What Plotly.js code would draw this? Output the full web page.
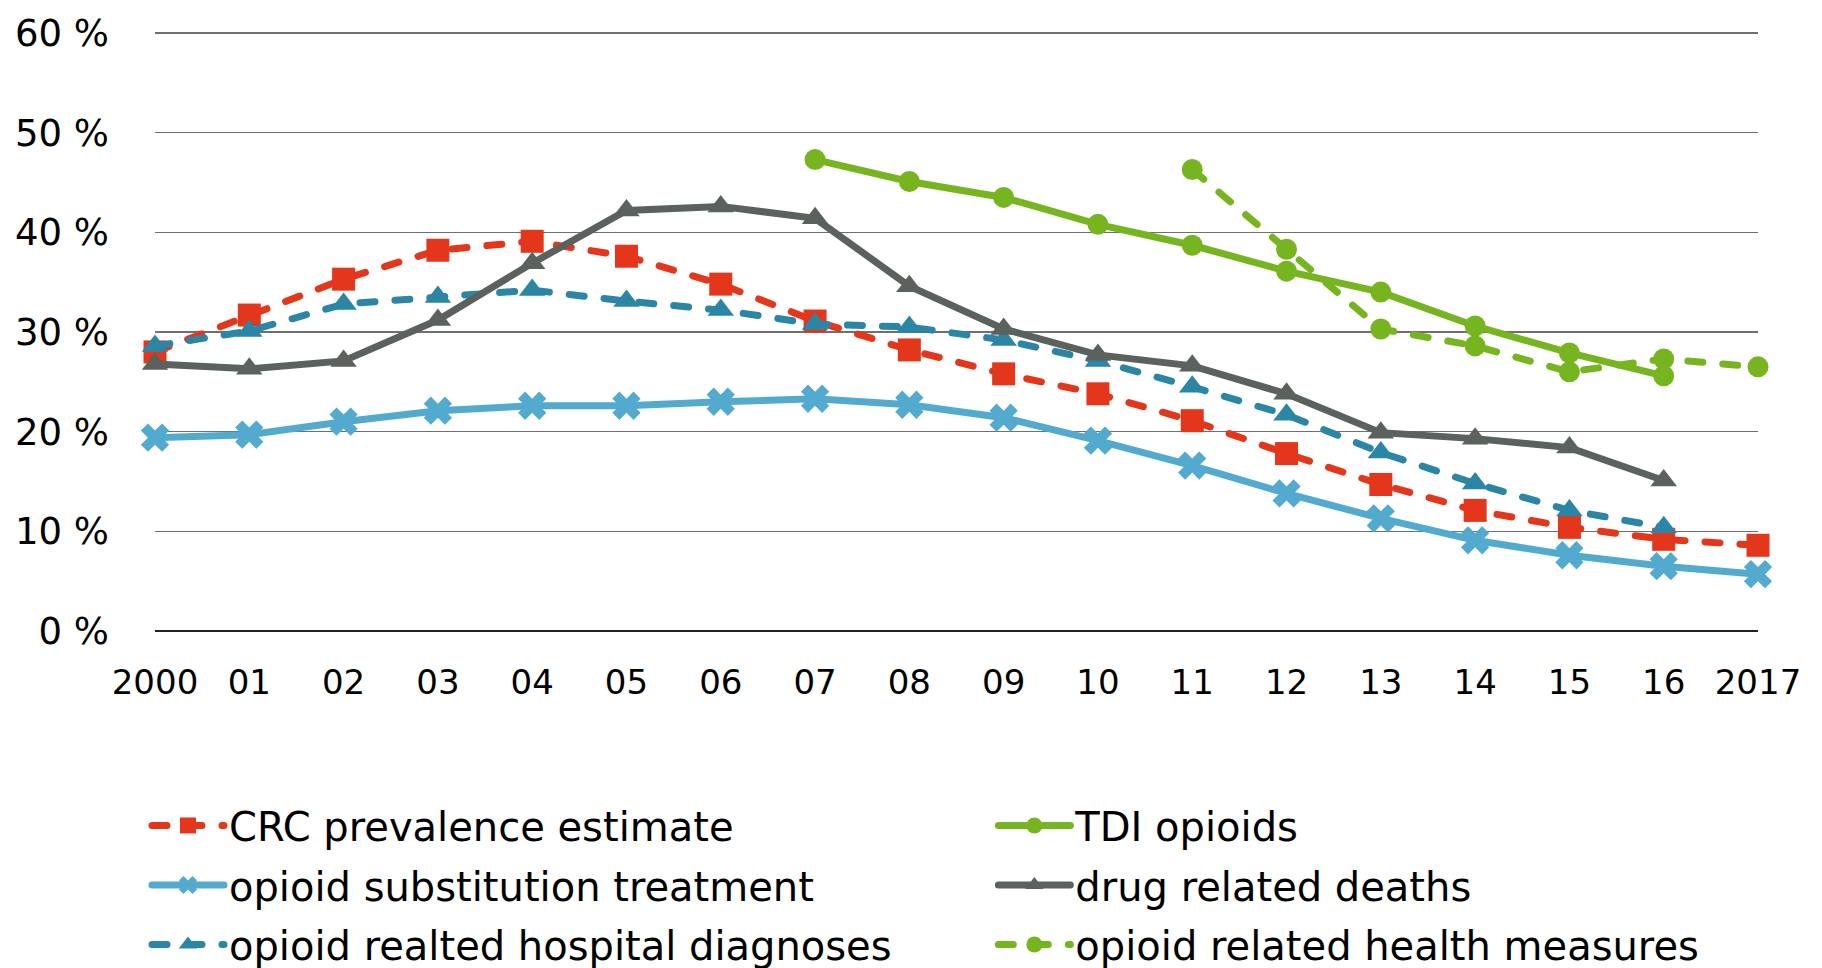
<!DOCTYPE html>
<html>
<head>
<meta charset="utf-8">
<script src="https://cdn.plot.ly/plotly-3.0.1.min.js"></script>
<style>
html,body{margin:0;padding:0;background:#fff;}
#chart{width:1822px;height:968px;}
#chart .js-line{stroke-linecap:round;}
</style>
</head>
<body>
<div id="chart"></div>
<script>
const years = [2000,2001,2002,2003,2004,2005,2006,2007,2008,2009,2010,2011,2012,2013,2014,2015,2016,2017];
const xTickLabels = ["2000","01","02","03","04","05","06","07","08","09","10","11","12","13","14","15","16","2017"];
const yTickVals = [0,10,20,30,40,50,60];
const yTickLabels = ["0 %","10 %","20 %","30 %","40 %","50 %","60 %"];
const crcPrevalence = [28.0,31.7,35.3,38.2,39.1,37.6,34.8,31.1,28.2,25.8,23.8,21.1,17.8,14.7,12.1,10.4,9.2,8.6];
const substitution = [19.4,19.7,21.0,22.1,22.6,22.6,23.0,23.3,22.7,21.4,19.1,16.6,13.8,11.3,9.1,7.6,6.5,5.7];
const hospitalDiag = [28.6,30.1,32.8,33.5,34.2,33.1,32.2,30.8,30.5,29.2,27.1,24.5,21.7,17.9,14.8,12.1,10.4,null];
const drugDeaths = [26.8,26.3,27.1,31.2,36.9,42.2,42.6,41.4,34.6,30.3,27.7,26.6,23.8,19.9,19.3,18.4,15.1,null];
const tdiYears = [2007,2008,2009,2010,2011,2012,2013,2014,2015,2016];
const tdiOpioids = [47.3,45.1,43.5,40.8,38.7,36.1,34.0,30.6,27.9,25.6];
const healthYears = [2011,2012,2013,2014,2015,2016,2017];
const healthMeasures = [46.3,38.3,30.3,28.6,26.0,27.3,26.5];

const FONT = '"DejaVu Sans", "Noto Sans", sans-serif';
const RED = '#E4361B', LBLUE = '#52AACE', TEAL = '#2B85A5', GREY = '#5B625D', GREEN = '#76B51F';
const DASH = '15px,20px';

const traces = [
  {name:'CRC prevalence estimate', x:years, y:crcPrevalence, legend:'legend', legendgroup:'a',
   line:{color:RED,width:7,dash:DASH}, marker:{symbol:'square',size:23,color:RED}},
  {name:'opioid substitution treatment', x:years, y:substitution, legend:'legend', legendgroup:'b',
   line:{color:LBLUE,width:7}, marker:{symbol:'x',size:25,color:LBLUE}},
  {name:'opioid realted hospital diagnoses', x:years, y:hospitalDiag, legend:'legend', legendgroup:'c',
   line:{color:TEAL,width:7,dash:DASH}, marker:{symbol:'triangle-up',size:23,color:TEAL}},
  {name:'TDI opioids', x:tdiYears, y:tdiOpioids, legend:'legend2', legendgroup:'d',
   line:{color:GREEN,width:7}, marker:{symbol:'circle',size:21,color:GREEN}},
  {name:'drug related deaths', x:years, y:drugDeaths, legend:'legend2', legendgroup:'e',
   line:{color:GREY,width:7}, marker:{symbol:'triangle-up',size:23,color:GREY}},
  {name:'opioid related health measures', x:healthYears, y:healthMeasures, legend:'legend2', legendgroup:'f',
   line:{color:GREEN,width:7,dash:DASH}, marker:{symbol:'circle',size:21,color:GREEN}}
].map(t => Object.assign({type:'scatter', mode:'lines+markers', cliponaxis:false, hoverinfo:'skip'}, t));

const legendCommon = {
  orientation:'v', yanchor:'top', xanchor:'left', y:-0.2664,
  font:{family:FONT, size:40, color:'#000'}, bgcolor:'rgba(0,0,0,0)',
  itemwidth:72, tracegroupgap:4.5, traceorder:'grouped'
};

const layout = {
  width:1822, height:968,
  margin:{l:155, r:64, t:23, b:337, autoexpand:false},
  paper_bgcolor:'#fff', plot_bgcolor:'#fff',
  font:{family:FONT, size:38, color:'#000'},
  showlegend:true,
  legend:Object.assign({}, legendCommon, {x:-0.005}),
  legend2:Object.assign({}, legendCommon, {x:0.523}),
  xaxis:{range:[2000,2017], tickvals:years, ticktext:xTickLabels, showgrid:false, zeroline:false,
         showline:false, ticks:'', ticklabelstandoff:28, fixedrange:true, automargin:false,
         tickfont:{family:FONT, size:34, color:'#000'}},
  yaxis:{range:[0,61], tickvals:yTickVals, ticktext:yTickLabels, showgrid:true, gridcolor:'#707070', gridwidth:1.5,
         zeroline:true, zerolinecolor:'#222', zerolinewidth:1.5, showline:false, ticks:'',
         ticklabelstandoff:45, fixedrange:true, automargin:false,
         tickfont:{family:FONT, size:37, color:'#000'}}
};

Plotly.newPlot('chart', traces, layout, {staticPlot:true, displayModeBar:false});
</script>
</body>
</html>
